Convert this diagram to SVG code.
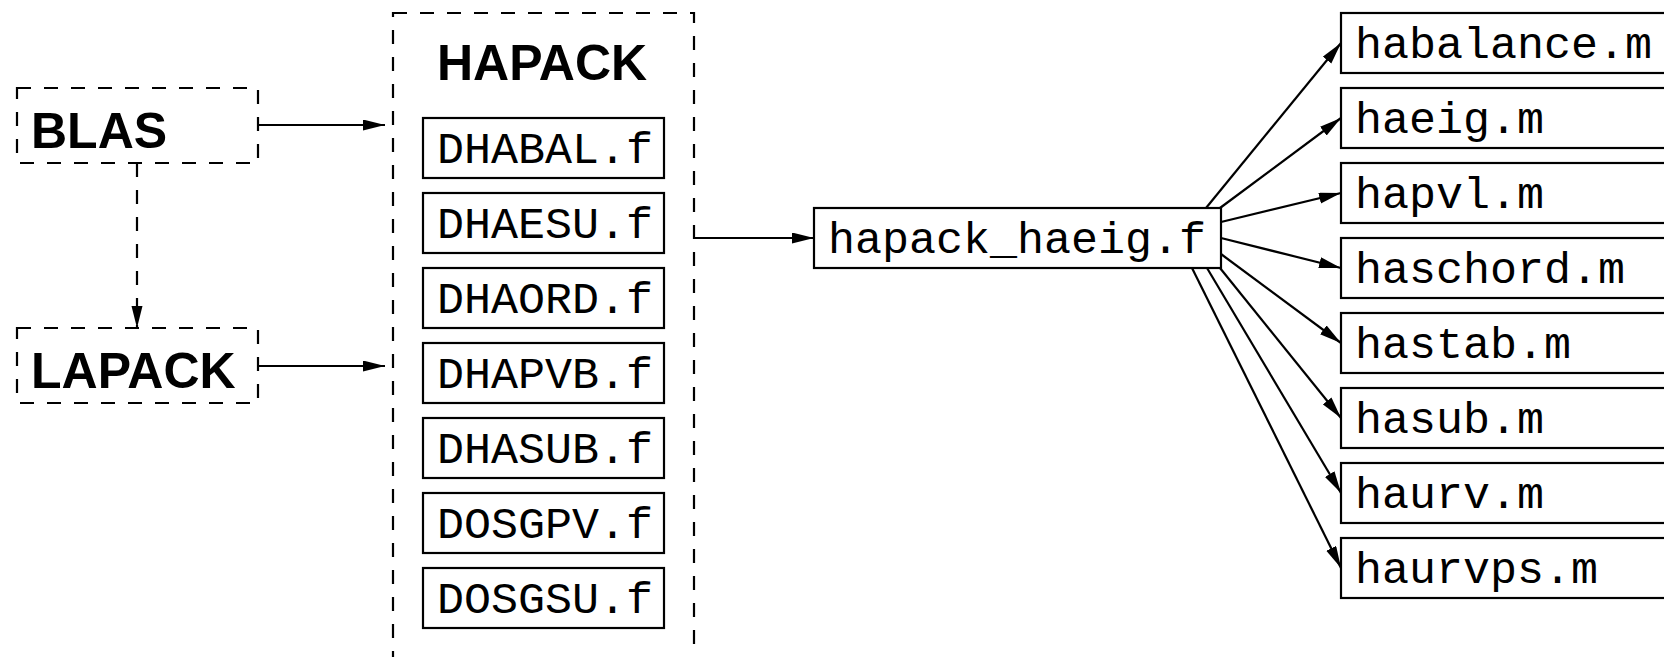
<svg xmlns="http://www.w3.org/2000/svg" width="1664" height="657" viewBox="0 0 1664 657">
  <defs>
    <style>
      .box { fill: #fff; stroke: #000; stroke-width: 2.2; }
      .dash { fill: none; stroke: #000; stroke-width: 2.2; stroke-dasharray: 14 13; }
      .edge { fill: none; stroke: #000; stroke-width: 2.2; }
      .dedge { fill: none; stroke: #000; stroke-width: 2.2; stroke-dasharray: 14 13; }
      .lib { font-family: "Liberation Sans", Arial, sans-serif; font-weight: bold; font-size: 50px; fill: #000; }
      .file { font-family: "Liberation Mono", "Courier New", monospace; font-size: 45px; fill: #000; }
    </style>
    <marker id="arrow" markerUnits="userSpaceOnUse" markerWidth="22" markerHeight="12" refX="22" refY="5.5" orient="auto">
      <path d="M0,0 L22,5.5 L0,11 z" fill="#000"/>
    </marker>
  </defs>

  <rect width="1664" height="657" fill="#fff"/>

  <!-- external libraries -->
  <g id="blas">
    <rect class="dash" x="17" y="88" width="241" height="75"/>
    <text class="lib" x="31" y="148">BLAS</text>
  </g>
  <g id="lapack">
    <rect class="dash" x="17" y="328" width="241" height="75"/>
    <text class="lib" x="31" y="388">LAPACK</text>
  </g>

  <!-- HAPACK container with its Fortran sources -->
  <g id="hapack">
    <rect class="dash" x="393" y="13" width="301" height="700"/>
    <text class="lib" x="437" y="80">HAPACK</text>
  </g>
  <g id="dhabal">
    <rect class="box" x="423" y="118" width="241" height="60"/>
    <text class="file" x="437" y="163">DHABAL.f</text>
  </g>
  <g id="dhaesu">
    <rect class="box" x="423" y="193" width="241" height="60"/>
    <text class="file" x="437" y="238">DHAESU.f</text>
  </g>
  <g id="dhaord">
    <rect class="box" x="423" y="268" width="241" height="60"/>
    <text class="file" x="437" y="313">DHAORD.f</text>
  </g>
  <g id="dhapvb">
    <rect class="box" x="423" y="343" width="241" height="60"/>
    <text class="file" x="437" y="388">DHAPVB.f</text>
  </g>
  <g id="dhasub">
    <rect class="box" x="423" y="418" width="241" height="60"/>
    <text class="file" x="437" y="463">DHASUB.f</text>
  </g>
  <g id="dosgpv">
    <rect class="box" x="423" y="493" width="241" height="60"/>
    <text class="file" x="437" y="538">DOSGPV.f</text>
  </g>
  <g id="dosgsu">
    <rect class="box" x="423" y="568" width="241" height="60"/>
    <text class="file" x="437" y="613">DOSGSU.f</text>
  </g>

  <!-- gateway -->
  <g id="hapack_haeig">
    <rect class="box" x="814" y="208" width="407" height="60"/>
    <text class="file" x="828" y="253">hapack_haeig.f</text>
  </g>

  <!-- MATLAB functions -->
  <g id="habalance">
    <rect class="box" x="1341" y="13" width="360" height="60"/>
    <text class="file" x="1355" y="58">habalance.m</text>
  </g>
  <g id="haeig">
    <rect class="box" x="1341" y="88" width="360" height="60"/>
    <text class="file" x="1355" y="133">haeig.m</text>
  </g>
  <g id="hapvl">
    <rect class="box" x="1341" y="163" width="360" height="60"/>
    <text class="file" x="1355" y="208">hapvl.m</text>
  </g>
  <g id="haschord">
    <rect class="box" x="1341" y="238" width="360" height="60"/>
    <text class="file" x="1355" y="283">haschord.m</text>
  </g>
  <g id="hastab">
    <rect class="box" x="1341" y="313" width="360" height="60"/>
    <text class="file" x="1355" y="358">hastab.m</text>
  </g>
  <g id="hasub">
    <rect class="box" x="1341" y="388" width="360" height="60"/>
    <text class="file" x="1355" y="433">hasub.m</text>
  </g>
  <g id="haurv">
    <rect class="box" x="1341" y="463" width="360" height="60"/>
    <text class="file" x="1355" y="508">haurv.m</text>
  </g>
  <g id="haurvps">
    <rect class="box" x="1341" y="538" width="360" height="60"/>
    <text class="file" x="1355" y="583">haurvps.m</text>
  </g>

  <!-- connectors -->
  <g id="connectors">
    <line class="edge" x1="258" y1="125" x2="385" y2="125" marker-end="url(#arrow)"/>
    <line class="edge" x1="258" y1="366" x2="385" y2="366" marker-end="url(#arrow)"/>
    <line class="dedge" x1="137" y1="163" x2="137" y2="328" marker-end="url(#arrow)"/>
    <line class="edge" x1="694" y1="238" x2="814" y2="238" marker-end="url(#arrow)"/>
    <line class="edge" x1="1206" y1="208" x2="1341" y2="43" marker-end="url(#arrow)"/>
    <line class="edge" x1="1220" y1="208" x2="1341" y2="118" marker-end="url(#arrow)"/>
    <line class="edge" x1="1221" y1="222" x2="1341" y2="193" marker-end="url(#arrow)"/>
    <line class="edge" x1="1221" y1="238" x2="1341" y2="268" marker-end="url(#arrow)"/>
    <line class="edge" x1="1221" y1="254" x2="1341" y2="343" marker-end="url(#arrow)"/>
    <line class="edge" x1="1220" y1="268" x2="1341" y2="418" marker-end="url(#arrow)"/>
    <line class="edge" x1="1207" y1="268" x2="1341" y2="493" marker-end="url(#arrow)"/>
    <line class="edge" x1="1192" y1="268" x2="1341" y2="568" marker-end="url(#arrow)"/>
  </g>
</svg>
